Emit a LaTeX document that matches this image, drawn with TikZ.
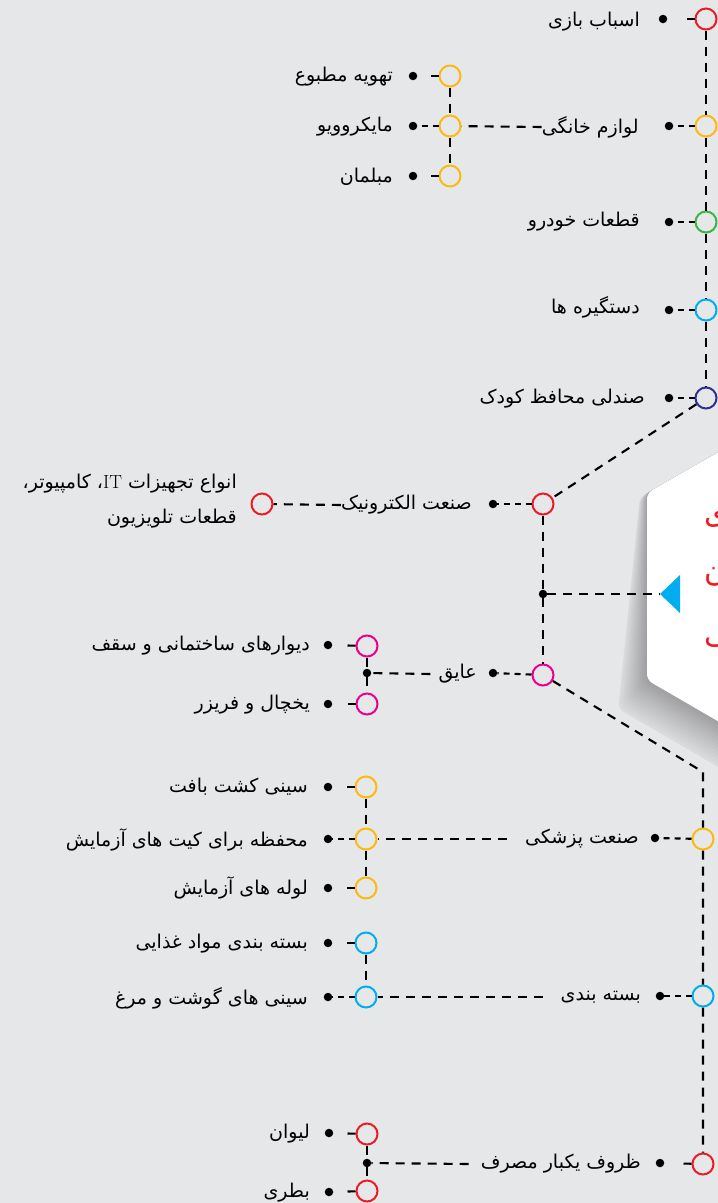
\documentclass[tikz,border=0pt]{standalone}
\usepackage{fontspec}
\newfontfamily\fa[Script=Arabic]{DejaVu Sans}
\TeXXeTstate=1
\usepackage{tikz}
\usetikzlibrary{positioning}

\definecolor{bggray}{RGB}{230,231,233}
\definecolor{ringred}{RGB}{237,28,36}
\definecolor{ringyellow}{RGB}{253,185,19}
\definecolor{ringgreen}{RGB}{57,181,74}
\definecolor{ringcyan}{RGB}{0,174,239}
\definecolor{ringnavy}{RGB}{46,49,146}
\definecolor{ringpink}{RGB}{236,0,140}

\newcommand{\rtl}[1]{\beginR #1\endR}

\begin{document}
\begin{tikzpicture}[x=1pt,y=-1pt,
  ring/.style={circle,draw=#1,line width=2pt,minimum size=21pt,inner sep=0pt},
  pin/.style={circle,fill=black,minimum size=8.5pt,inner sep=0pt},
  lbl/.style={anchor=east,inner sep=0pt,font=\fa\fontsize{19}{23}\selectfont},
  link/.style={line width=2.1pt,dash pattern=on 9pt off 7pt},
  lead/.style={line width=2.1pt,dash pattern=on 8pt off 40pt},
  lead2/.style={line width=2.1pt,dash pattern=on 6pt off 5pt}]
          \useasboundingbox (0,0) rectangle (718,1203);
          \fill[bggray] (0,0) rectangle (718,1203);
          \clip (0,0) rectangle (718,1203);

          % Hexagon with its shadow
          \foreach \i in {12,...,1}{
            \pgfmathsetmacro\shade{32-2.2*\i}
            \fill[black!\shade!bggray, rounded corners=6pt] (809,400) -- ({647-0.6*\i},{493+0.4*\i})
              -- ({647-2.4*\i},{680+2.4*\i}) -- ({809-2.4*\i},{774+2.4*\i}) -- (980,680) -- (980,493) -- cycle;
          }
          \fill[white, rounded corners=6pt] (809,400) -- (647,493) -- (647,680) -- (809,774)
            -- (971,680) -- (971,493) -- cycle;
          \node[anchor=west, inner sep=0pt, text=ringred, font=\fa\fontsize{30}{34}\selectfont] (title1) at (704,516) {\rtl{کاربردهای}};
          \node[anchor=west, inner sep=0pt, text=ringred, font=\fa\fontsize{30}{34}\selectfont] (title2) at (704,574) {\rtl{پلی استایرن}};
          \node[anchor=west, inner sep=0pt, text=ringred, font=\fa\fontsize{30}{34}\selectfont] (title3) at (704,634) {\rtl{در زندگی}};
          \fill[ringcyan] (660,594) coordinate (tip) -- (680,575) -- (680,613) -- cycle;

          % Upper spine
          \node[ring=ringred] (toy) at (706,19) {};
          \node[ring=ringyellow] (home) at (706,126) {};
          \node[ring=ringgreen] (car) at (706,222) {};
          \node[ring=ringcyan] (handle) at (706,310) {};
          \node[ring=ringnavy] (seat) at (706,398) {};
          \draw[link] (toy) -- (home) -- (car) -- (handle) -- (seat);

          \node[pin] (toydot) at (663,19) {};
          \node[pin] (homedot) at (669,126) {};
          \node[pin] (cardot) at (669,222) {};
          \node[pin] (handledot) at (669,310) {};
          \node[pin] (seatdot) at (669,398) {};
          \draw[lead] (toy) -- (toydot);
          \draw[lead2] (home) -- (homedot);
          \draw[lead2] (car) -- (cardot);
          \draw[lead2] (handle) -- (handledot);
          \draw[lead2] (seat) -- (seatdot);

          \node[lbl] (toylbl) at (640,22) {\rtl{اسباب بازی}};
          \node[lbl] (homelbl) at (639,127) {\rtl{لوازم خانگی}};
          \node[lbl] (carlbl) at (640,222) {\rtl{قطعات خودرو}};
          \node[lbl] (handlelbl) at (640,307) {\rtl{دستگیره ها}};
          \node[lbl] (seatlbl) at (645,399) {\rtl{صندلی محافظ کودک}};

          % Household group
          \node[ring=ringyellow] (vent) at (450,76) {};
          \node[ring=ringyellow] (micro) at (450,126) {};
          \node[ring=ringyellow] (furn) at (450,176) {};
          \draw[link] (vent) -- (micro) -- (furn);
          \draw[link] (homelbl.west) -- (micro);
          \node[pin] (ventdot) at (413,76) {};
          \node[pin] (microdot) at (413,126) {};
          \node[pin] (furndot) at (413,176) {};
          \draw[lead] (vent) -- (ventdot);
          \draw[lead2] (micro) -- (microdot);
          \draw[lead] (furn) -- (furndot);
          \node[lbl] (ventlbl) at (393,77) {\rtl{تهویه مطبوع}};
          \node[lbl] (microlbl) at (393,127) {\rtl{مایکروویو}};
          \node[lbl] (furnlbl) at (393,177) {\rtl{مبلمان}};

          % Electronics and insulation
          \node[ring=ringred] (elec) at (543,504) {};
          \node[ring=ringpink] (ins) at (543,675) {};
          \node[pin] (hub) at (543,594) {};
          \draw[link] (seat) -- (elec);
          \draw[link] (elec) -- (hub) -- (ins);
          \draw[link] (hub) -- (tip);

          \node[pin] (elecdot) at (493,504) {};
          \draw[lead2] (elec) -- (elecdot);
          \node[lbl] (eleclbl) at (472,505) {\rtl{صنعت الکترونیک}};
          \node[ring=ringred] (itring) at (262,504) {};
          \draw[link] (eleclbl.west) -- (itring);
          \node[lbl, align=right, font=\fa\fontsize{19}{35}\selectfont] (itlbl) at (237,501)
            {\rtl{انواع تجهیزات \beginL{\normalfont IT}\endL{}، کامپیوتر،}\\\rtl{قطعات تلویزیون}};

          \node[pin] (insdot) at (493,673) {};
          \draw[lead2] (ins) -- (insdot);
          \node[lbl] (inslbl) at (477,674) {\rtl{عایق}};
          \node[pin] (insjoin) at (367,673) {};
          \draw[link] ([xshift=-8pt]inslbl.west) -- (insjoin);
          \node[ring=ringpink] (wall) at (367,646) {};
          \node[ring=ringpink] (fridge) at (367,704) {};
          \draw[link] (wall) -- (insjoin) -- (fridge);
          \node[pin] (walldot) at (328,645) {};
          \node[pin] (fridgedot) at (328,704) {};
          \draw[lead] (wall) -- (walldot);
          \draw[lead] (fridge) -- (fridgedot);
          \node[lbl] (walllbl) at (310,646) {\rtl{دیوارهای ساختمانی و سقف}};
          \node[lbl] (fridgelbl) at (310,705) {\rtl{یخچال و فریزر}};

          % Lower spine
          \coordinate (bend) at (703,772);
          \node[ring=ringyellow] (med) at (703,839) {};
          \node[ring=ringcyan] (pack) at (703,996) {};
          \node[ring=ringred] (disp) at (703,1164) {};
          \draw[link] (ins) -- (bend) -- (med) -- (pack) -- (disp);

          \node[pin] (meddot) at (655,838) {};
          \node[pin] (packdot) at (660,996) {};
          \node[pin] (dispdot) at (660,1163) {};
          \draw[lead2] (med) -- (meddot);
          \draw[lead2] (pack) -- (packdot);
          \draw[lead] (disp) -- (dispdot);
          \node[lbl] (medlbl) at (639,839) {\rtl{صنعت پزشکی}};
          \node[lbl] (packlbl) at (641,997) {\rtl{بسته بندی}};
          \node[lbl] (displbl) at (641,1164) {\rtl{ظروف یکبار مصرف}};

          % Medical group
          \node[ring=ringyellow] (tissue) at (366,787) {};
          \node[ring=ringyellow] (kit) at (366,839) {};
          \node[ring=ringyellow] (tube) at (366,888) {};
          \draw[link] (tissue) -- (kit) -- (tube);
          \draw[link] ([xshift=-18pt]medlbl.west) -- (kit);
          \node[pin] (tissuedot) at (328,787) {};
          \node[pin] (kitdot) at (328,839) {};
          \node[pin] (tubedot) at (328,888) {};
          \draw[lead] (tissue) -- (tissuedot);
          \draw[lead2] (kit) -- (kitdot);
          \draw[lead] (tube) -- (tubedot);
          \node[lbl] (tissuelbl) at (308,787) {\rtl{سینی کشت بافت}};
          \node[lbl] (kitlbl) at (308,840) {\rtl{محفظه برای کیت های آزمایش}};
          \node[lbl] (tubelbl) at (308,888) {\rtl{لوله های آزمایش}};

          % Packaging group
          \node[ring=ringcyan] (food) at (366,943) {};
          \node[ring=ringcyan] (meat) at (366,997) {};
          \draw[link] (food) -- (meat);
          \draw[link] ([xshift=-18pt]packlbl.west) -- (meat);
          \node[pin] (fooddot) at (328,943) {};
          \node[pin] (meatdot) at (328,997) {};
          \draw[lead] (food) -- (fooddot);
          \draw[lead2] (meat) -- (meatdot);
          \node[lbl] (foodlbl) at (308,944) {\rtl{بسته بندی مواد غذایی}};
          \node[lbl] (meatlbl) at (308,998) {\rtl{سینی های گوشت و مرغ}};

          % Disposable group
          \node[pin] (dispjoin) at (367,1163) {};
          \draw[link] ([xshift=-12pt]displbl.west) -- (dispjoin);
          \node[ring=ringred] (glass) at (367,1134) {};
          \node[ring=ringred] (bottle) at (367,1191) {};
          \draw[link] (glass) -- (dispjoin) -- (bottle);
          \node[pin] (glassdot) at (329,1133) {};
          \node[pin] (bottledot) at (329,1192) {};
          \draw[lead] (glass) -- (glassdot);
          \draw[lead] (bottle) -- (bottledot);
          \node[lbl] (glasslbl) at (310,1134) {\rtl{لیوان}};
          \node[lbl] (bottlelbl) at (310,1193) {\rtl{بطری}};
        \end{tikzpicture}
\end{document}
